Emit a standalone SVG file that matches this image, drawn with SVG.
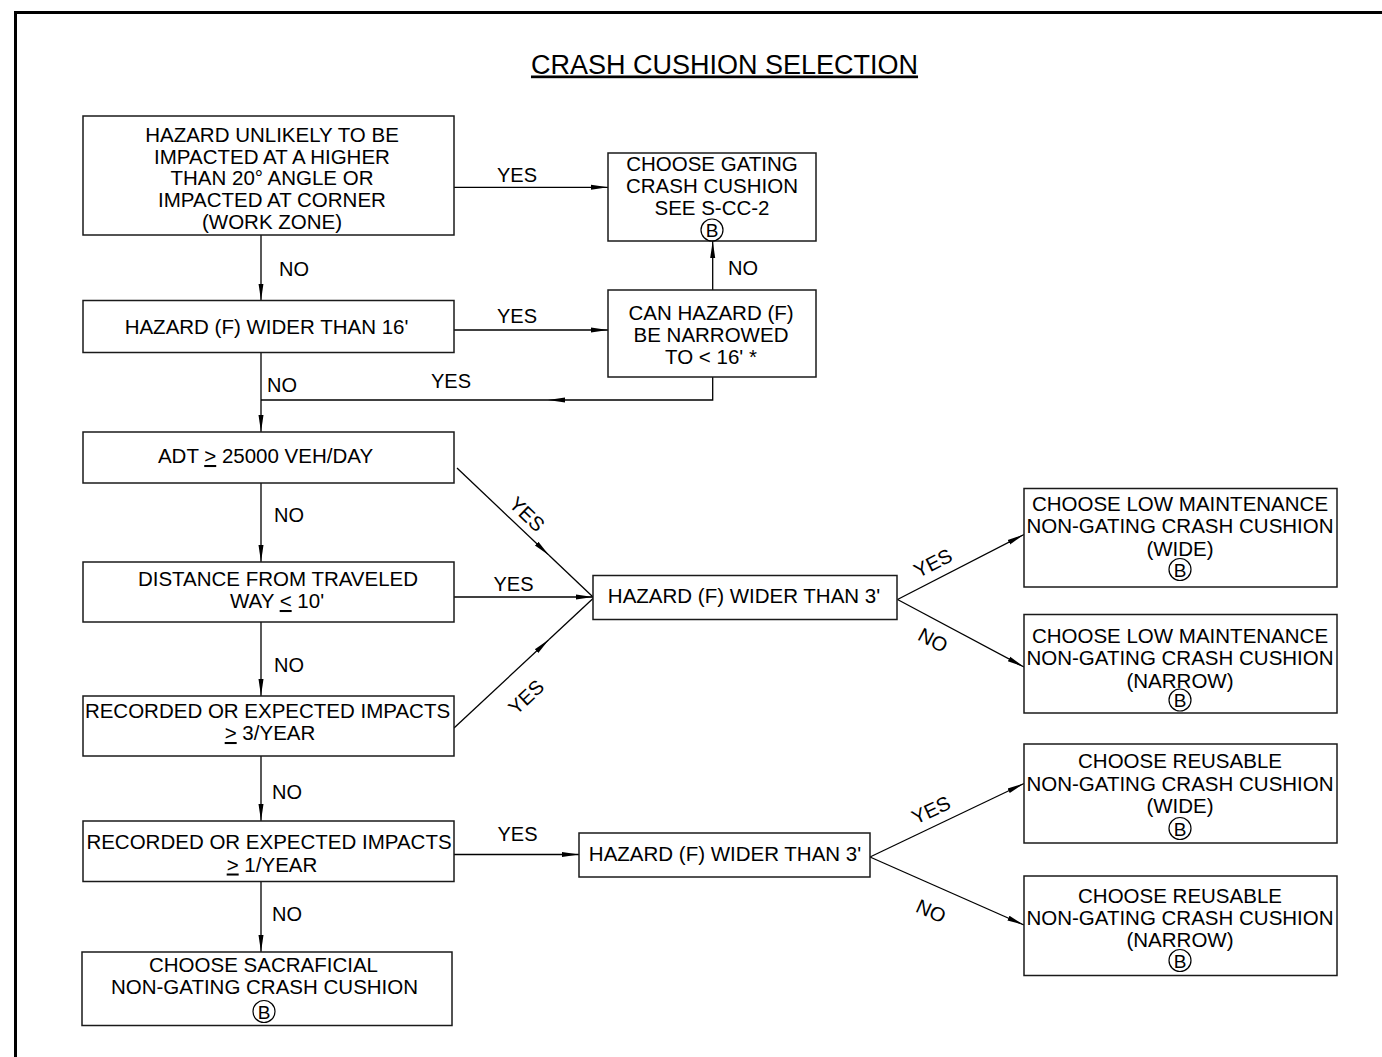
<svg xmlns="http://www.w3.org/2000/svg" width="1382" height="1057" viewBox="0 0 1382 1057">
<style>
.bx{fill:#fff;stroke:#1a1a1a;stroke-width:1.5}
.t{font-family:"Liberation Sans",Arial,sans-serif;font-size:20.5px;fill:#000;text-anchor:middle}
.l{font-family:"Liberation Sans",Arial,sans-serif;font-size:20px;fill:#000}
.lm{font-family:"Liberation Sans",Arial,sans-serif;font-size:20px;fill:#000;text-anchor:middle}
.c{fill:none;stroke:#000;stroke-width:1.3}
.ci{fill:none;stroke:#000;stroke-width:1.2}
.bt{font-family:"Liberation Sans",Arial,sans-serif;font-size:19px;fill:#000;text-anchor:middle}
.u{text-decoration:underline}
</style>
<defs>
<marker id="ah" markerUnits="userSpaceOnUse" markerWidth="18" markerHeight="8" refX="17" refY="4" orient="auto" viewBox="0 0 18 8">
<path d="M0,1.5 L17,4 L0,6.5 Z" fill="#000"/>
</marker>
</defs>
<rect width="1382" height="1057" fill="#fff"/>
<path d="M15.5,1057 V12.5 H1382" fill="none" stroke="#000" stroke-width="3"/>
<text x="724.5" y="73.5" font-family="Liberation Sans, Arial, sans-serif" font-size="27" text-anchor="middle" text-decoration="underline" fill="#000">CRASH CUSHION SELECTION</text>

<g id="connectors">
<line class="c" x1="454" y1="187.3" x2="608" y2="187.3" marker-end="url(#ah)"/>
<line class="c" x1="261" y1="235" x2="261" y2="300.5" marker-end="url(#ah)"/>
<line class="c" x1="454" y1="330" x2="608" y2="330" marker-end="url(#ah)"/>
<line class="c" x1="712.7" y1="290" x2="712.7" y2="241" marker-end="url(#ah)"/>
<path class="c" d="M712.7,377 V400 H548" marker-end="url(#ah)"/>
<line class="c" x1="548" y1="400" x2="261" y2="400"/>
<line class="c" x1="261" y1="352.5" x2="261" y2="432" marker-end="url(#ah)"/>
<line class="c" x1="261" y1="483" x2="261" y2="562" marker-end="url(#ah)"/>
<line class="c" x1="261" y1="622" x2="261" y2="696" marker-end="url(#ah)"/>
<line class="c" x1="261" y1="756" x2="261" y2="821" marker-end="url(#ah)"/>
<line class="c" x1="261" y1="881.5" x2="261" y2="952" marker-end="url(#ah)"/>
<line class="c" x1="457" y1="468" x2="549" y2="555.3" marker-end="url(#ah)"/>
<line class="c" x1="549" y1="555.3" x2="593" y2="597"/>
<line class="c" x1="454" y1="597" x2="593" y2="597" marker-end="url(#ah)"/>
<line class="c" x1="454" y1="728" x2="549" y2="639.5" marker-end="url(#ah)"/>
<line class="c" x1="549" y1="639.5" x2="593" y2="598.5"/>
<line class="c" x1="897.5" y1="599.5" x2="1024" y2="534.5" marker-end="url(#ah)"/>
<line class="c" x1="897.5" y1="599.5" x2="1024" y2="667" marker-end="url(#ah)"/>
<line class="c" x1="454" y1="854.5" x2="579" y2="854.5" marker-end="url(#ah)"/>
<line class="c" x1="870" y1="857" x2="1024" y2="783.5" marker-end="url(#ah)"/>
<line class="c" x1="870" y1="857" x2="1024" y2="925" marker-end="url(#ah)"/>
<text class="lm" x="517" y="182">YES</text>
<text class="l" x="279" y="276">NO</text>
<text class="l" x="728" y="275">NO</text>
<text class="lm" x="517" y="323">YES</text>
<text class="lm" x="451" y="388">YES</text>
<text class="l" x="267" y="391.5">NO</text>
<text class="l" x="274" y="522">NO</text>
<text class="lm" transform="translate(527,514) rotate(44)" x="0" y="7">YES</text>
<text class="lm" x="513.5" y="590.5">YES</text>
<text class="l" x="274" y="672">NO</text>
<text class="lm" transform="translate(526,697) rotate(-43)" x="0" y="7">YES</text>
<text class="l" x="272" y="799">NO</text>
<text class="lm" x="517.5" y="841">YES</text>
<text class="l" x="272" y="920.5">NO</text>
<text class="lm" transform="translate(933,563) rotate(-27)" x="0" y="7">YES</text>
<text class="lm" transform="translate(933,640) rotate(28)" x="0" y="7">NO</text>
<text class="lm" transform="translate(931,810) rotate(-25)" x="0" y="7">YES</text>
<text class="lm" transform="translate(931,911) rotate(24)" x="0" y="7">NO</text>
</g>

<g id="n1">
<rect class="bx" x="83" y="116" width="371" height="119"/>
<text class="t" x="272" y="141.5">HAZARD UNLIKELY TO BE</text>
<text class="t" x="272" y="163.5">IMPACTED AT A HIGHER</text>
<text class="t" x="272" y="185">THAN 20° ANGLE OR</text>
<text class="t" x="272" y="207">IMPACTED AT CORNER</text>
<text class="t" x="272" y="228.5">(WORK ZONE)</text>
</g>
<g id="n2">
<rect class="bx" x="608" y="153" width="208" height="88"/>
<text class="t" x="712" y="171">CHOOSE GATING</text>
<text class="t" x="712" y="193">CRASH CUSHION</text>
<text class="t" x="712" y="215">SEE S-CC-2</text>
<circle class="ci" cx="712" cy="230" r="11"/>
<text class="bt" x="712" y="237">B</text>
</g>
<g id="n3">
<rect class="bx" x="83" y="300.5" width="371" height="52"/>
<text class="t" x="266.5" y="334">HAZARD (F) WIDER THAN 16'</text>
</g>
<g id="n4">
<rect class="bx" x="608" y="290" width="208" height="87"/>
<text class="t" x="711" y="320">CAN HAZARD (F)</text>
<text class="t" x="711" y="342">BE NARROWED</text>
<text class="t" x="711" y="364">TO &lt; 16' *</text>
</g>
<g id="n5">
<rect class="bx" x="83" y="432" width="371" height="51"/>
<text class="t" x="265.5" y="463">ADT <tspan class="u">&gt;</tspan> 25000 VEH/DAY</text>
</g>
<g id="n6">
<rect class="bx" x="83" y="562" width="371" height="60"/>
<text class="t" x="278" y="586">DISTANCE FROM TRAVELED</text>
<text class="t" x="277" y="608">WAY <tspan class="u">&lt;</tspan> 10'</text>
</g>
<g id="n7">
<rect class="bx" x="83" y="696" width="371" height="60"/>
<text class="t" x="267.5" y="717.5">RECORDED OR EXPECTED IMPACTS</text>
<text class="t" x="270" y="740"><tspan class="u">&gt;</tspan> 3/YEAR</text>
</g>
<g id="n8">
<rect class="bx" x="593" y="575.5" width="304" height="44"/>
<text class="t" x="744" y="603">HAZARD (F) WIDER THAN 3'</text>
</g>
<g id="n9">
<rect class="bx" x="1024" y="488.5" width="313" height="98.5"/>
<text class="t" x="1180" y="510.5">CHOOSE LOW MAINTENANCE</text>
<text class="t" x="1180" y="533">NON-GATING CRASH CUSHION</text>
<text class="t" x="1180" y="555.5">(WIDE)</text>
<circle class="ci" cx="1180" cy="569.5" r="11"/>
<text class="bt" x="1180" y="576.5">B</text>
</g>
<g id="n10">
<rect class="bx" x="1024" y="614.5" width="313" height="98.5"/>
<text class="t" x="1180" y="642.5">CHOOSE LOW MAINTENANCE</text>
<text class="t" x="1180" y="665">NON-GATING CRASH CUSHION</text>
<text class="t" x="1180" y="687.5">(NARROW)</text>
<circle class="ci" cx="1180" cy="700" r="11"/>
<text class="bt" x="1180" y="707">B</text>
</g>
<g id="n11">
<rect class="bx" x="83" y="821" width="371" height="60.5"/>
<text class="t" x="269" y="849">RECORDED OR EXPECTED IMPACTS</text>
<text class="t" x="272" y="871.5"><tspan class="u">&gt;</tspan> 1/YEAR</text>
</g>
<g id="n12">
<rect class="bx" x="579" y="833" width="291" height="44"/>
<text class="t" x="725" y="860.5">HAZARD (F) WIDER THAN 3'</text>
</g>
<g id="n13">
<rect class="bx" x="1024" y="744" width="313" height="99"/>
<text class="t" x="1180" y="768">CHOOSE REUSABLE</text>
<text class="t" x="1180" y="790.5">NON-GATING CRASH CUSHION</text>
<text class="t" x="1180" y="812.5">(WIDE)</text>
<circle class="ci" cx="1180" cy="828.5" r="11"/>
<text class="bt" x="1180" y="835.5">B</text>
</g>
<g id="n14">
<rect class="bx" x="1024" y="876" width="313" height="99.5"/>
<text class="t" x="1180" y="903">CHOOSE REUSABLE</text>
<text class="t" x="1180" y="925">NON-GATING CRASH CUSHION</text>
<text class="t" x="1180" y="946.5">(NARROW)</text>
<circle class="ci" cx="1180" cy="960.5" r="11"/>
<text class="bt" x="1180" y="967.5">B</text>
</g>
<g id="n15">
<rect class="bx" x="82" y="952" width="370" height="73.5"/>
<text class="t" x="263.5" y="972">CHOOSE SACRAFICIAL</text>
<text class="t" x="264.5" y="994">NON-GATING CRASH CUSHION</text>
<circle class="ci" cx="264" cy="1011.5" r="11"/>
<text class="bt" x="264" y="1018.5">B</text>
</g>
</svg>
